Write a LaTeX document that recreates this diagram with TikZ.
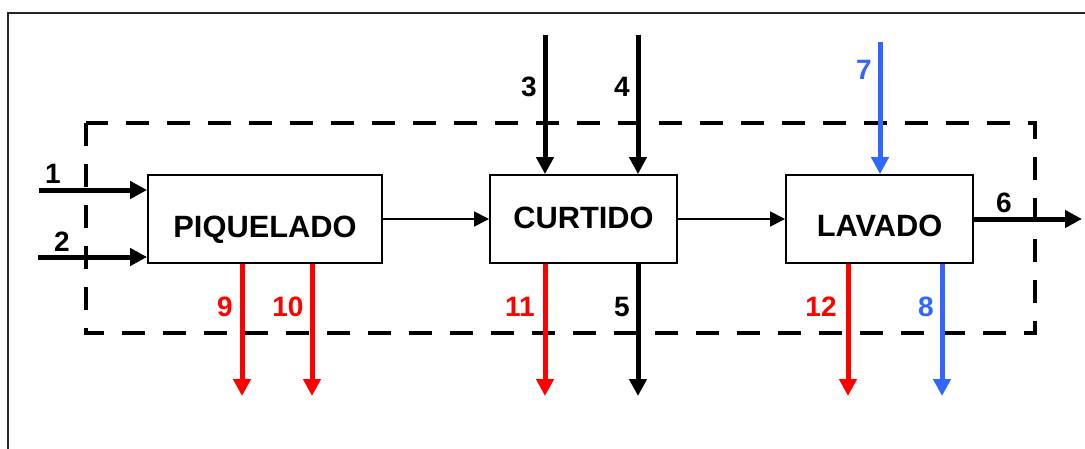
\documentclass[tikz,border=0pt]{standalone}
\usepackage{fontspec}
\setmainfont{Liberation Sans}
\usetikzlibrary{arrows.meta}
\definecolor{flowred}{RGB}{255,0,0}
\definecolor{flowblue}{RGB}{51,102,255}
\begin{document}
\begin{tikzpicture}[x=1pt,y=-1pt,
  stage/.style={draw, line width=1.8pt, inner sep=0pt, minimum height=88pt,
    font=\fontsize{30.8}{36}\selectfont\bfseries, text depth=0pt},
  link/.style={line width=1.3pt, -{Triangle[length=15pt,width=15pt]}},
  stream/.style={line width=5pt, -{Triangle[length=17pt,width=17pt]}},
  tag/.style={inner sep=0pt, font=\fontsize{28}{32}\selectfont\bfseries},
  boundary/.style={line width=4.5pt, dash pattern=on 23pt off 18pt}]
\useasboundingbox (0,0) rectangle (1085,448);

% outer frame
\draw[line width=2pt, black!85] (8,470) -- (8,13) -- (1100,13);

% system boundary
\draw[boundary] (86,123) rectangle (1035,333);

% process stages
\node[stage, minimum width=234pt, text height=36pt] (piq) at (265,219) {PIQUELADO};
\node[stage, minimum width=187pt, text height=18pt] (cur) at (583.5,219) {CURTIDO};
\node[stage, minimum width=187pt, text height=35pt] (lav) at (879.5,219) {LAVADO};

% main flow
\draw[link] (piq) -- (cur);
\draw[link] (cur) -- (lav);

% stream end points
\coordinate (s1) at (39,190);
\coordinate (s2) at (38,257);
\coordinate (s3) at (545,35);
\coordinate (s4) at (638,35);
\coordinate (s7) at (880,42);
\coordinate (e6) at (1082,219);
\coordinate (e9) at (242,396);
\coordinate (e10) at (312,396);
\coordinate (e11) at (545,396);
\coordinate (e5) at (638,396);
\coordinate (e12) at (848,396);
\coordinate (e8) at (942,396);

% inputs
\draw[stream] (s1) -- (s1 -| piq.west);
\draw[stream] (s2) -- (s2 -| piq.west);
\draw[stream] (s3) -- (s3 |- cur.north);
\draw[stream] (s4) -- (s4 |- cur.north);
\draw[stream, flowblue] (s7) -- (s7 |- lav.north);

% outputs
\draw[stream] (lav.east) -- (e6);
\draw[stream, flowred] (e9 |- piq.south) -- (e9);
\draw[stream, flowred] (e10 |- piq.south) -- (e10);
\draw[stream, flowred] (e11 |- cur.south) -- (e11);
\draw[stream] (e5 |- cur.south) -- (e5);
\draw[stream, flowred] (e12 |- lav.south) -- (e12);
\draw[stream, flowblue] (e8 |- lav.south) -- (e8);

% stream numbers
\node[tag] (t1) at (53,174) {1};
\node[tag] (t2) at (62,242) {2};
\node[tag] (t3) at (529,87) {3};
\node[tag] (t4) at (622,87) {4};
\node[tag, flowblue] (t7) at (864,70) {7};
\node[tag] (t6) at (1004,203) {6};
\node[tag, flowred] (t9) at (225,307) {9};
\node[tag, flowred] (t10) at (288,307) {10};
\node[tag, flowred] (t11) at (520,307) {11};
\node[tag] (t5) at (622,307) {5};
\node[tag, flowred] (t12) at (821,307) {12};
\node[tag, flowblue] (t8) at (926,307) {8};
\end{tikzpicture}
\end{document}
